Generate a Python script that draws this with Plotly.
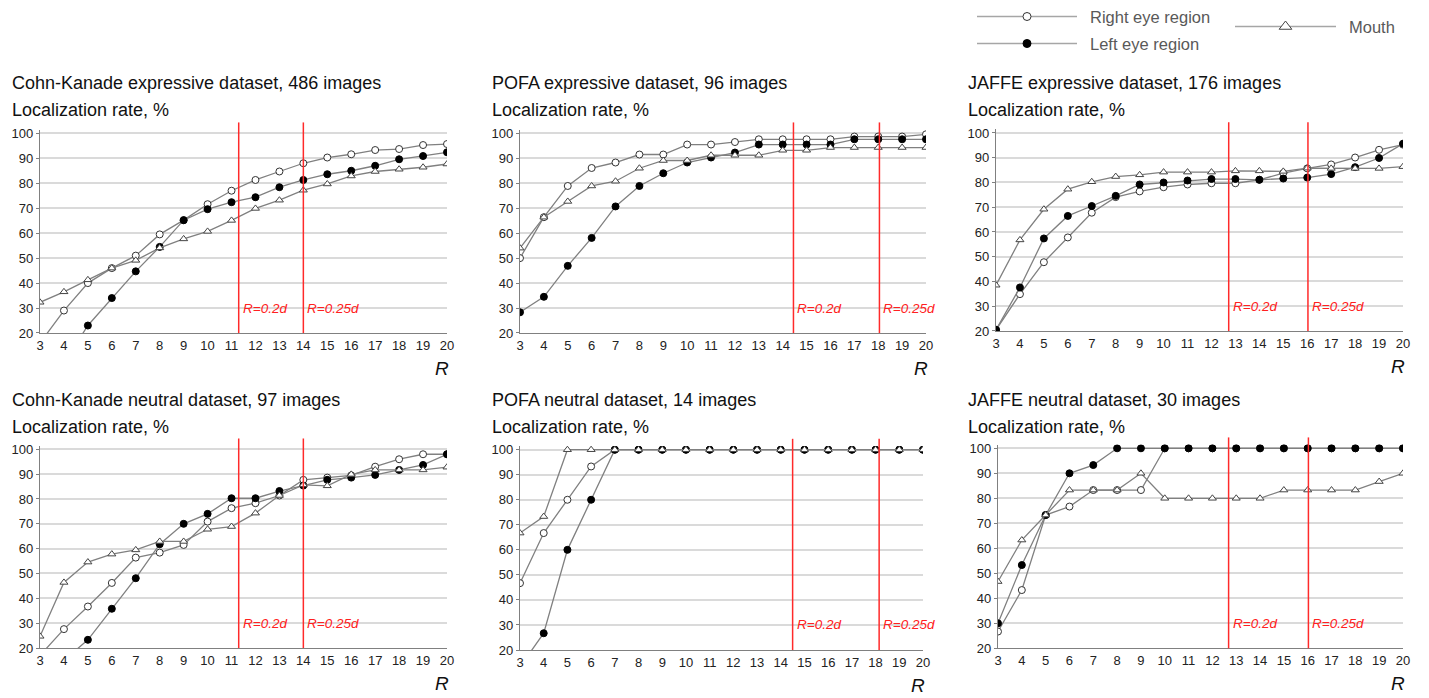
import plotly.graph_objects as go

# target canvas (reference pixels) and page offset (default body margin)
REF_W, REF_H = 1429, 698
OFF = 8
W, H = REF_W - OFF, REF_H - OFF

R_VALUES = list(range(3, 21))

# ---------------- data (localization rate, %) ----------------
titles = [
    "Cohn-Kanade expressive dataset, 486 images",
    "POFA expressive dataset, 96 images",
    "JAFFE expressive dataset, 176 images",
    "Cohn-Kanade neutral dataset, 97 images",
    "POFA neutral dataset, 14 images",
    "JAFFE neutral dataset, 30 images",
]
y_axis_label = "Localization rate, %"

ck_expr_right = [16, 29, 40, 46, 51, 59.5, 65.2, 71.6, 77, 81.3, 84.7, 88, 90.3, 91.6, 93.3, 93.7, 95.3, 95.7]
ck_expr_left = [2, 8, 23, 34, 44.7, 54.5, 65.2, 69.6, 72.4, 74.4, 78.4, 81.3, 83.6, 85, 87, 89.6, 90.9, 92.4]
ck_expr_mouth = [32.3, 36.5, 41.3, 46, 49.1, 54.1, 57.7, 60.7, 65.1, 69.9, 73.2, 77.2, 79.7, 82.9, 84.7, 85.6, 86.4, 87.7]

pofa_expr_right = [50, 66.4, 78.9, 86.1, 88.3, 91.5, 91.5, 95.5, 95.5, 96.5, 97.6, 97.6, 97.6, 97.6, 98.7, 98.7, 98.7, 99.6]
pofa_expr_left = [28.3, 34.5, 46.9, 58.1, 70.7, 78.9, 84, 88.3, 90.3, 92.3, 95.5, 95.5, 95.5, 95.5, 97.6, 97.6, 97.6, 97.6]
pofa_expr_mouth = [54, 66.4, 72.7, 78.9, 80.8, 86, 89.1, 89.1, 91.2, 91.2, 91.2, 93.2, 93.2, 94.3, 94.3, 94.3, 94.3, 94.3]

jaffe_expr_right = [20.5, 34.9, 47.8, 57.8, 67.8, 74.1, 76.4, 78.1, 79.2, 79.7, 79.7, 81.1, 83.8, 85.7, 87.3, 90.1, 93.2, 95.3]
jaffe_expr_left = [20.5, 37.6, 57.4, 66.5, 70.5, 74.6, 79.2, 80, 80.8, 81.4, 81.4, 81.1, 81.6, 82, 83.4, 86.2, 89.9, 95.7]
jaffe_expr_mouth = [38.5, 56.8, 69.2, 77.3, 80.3, 82.4, 83.1, 84.2, 84.2, 84.2, 84.7, 84.7, 84.5, 85.8, 85.7, 85.7, 85.7, 86.4]

ck_neut_right = [17, 27.6, 36.7, 46.2, 56.4, 58.4, 61.5, 70.9, 76.3, 78.3, 81.4, 87.7, 88.6, 89.5, 93, 96, 98, 98]
ck_neut_left = [5, 15, 23.3, 35.8, 48.1, 61.8, 70, 74, 80.3, 80.3, 83.2, 85.4, 87.7, 88.6, 89.7, 91.7, 93.7, 98]
ck_neut_mouth = [24.7, 46.4, 54.6, 57.8, 59.5, 62.9, 62.9, 67.8, 68.9, 74.3, 81.4, 85.7, 85.3, 89.9, 91.7, 91.7, 91.7, 92.8]

pofa_neut_right = [46.7, 66.7, 80, 93.3, 100, 100, 100, 100, 100, 100, 100, 100, 100, 100, 100, 100, 100, 100]
pofa_neut_left = [13.3, 26.7, 60, 80, 100, 100, 100, 100, 100, 100, 100, 100, 100, 100, 100, 100, 100, 100]
pofa_neut_mouth = [66.7, 73.3, 100, 100, 100, 100, 100, 100, 100, 100, 100, 100, 100, 100, 100, 100, 100, 100]

jaffe_neut_right = [26.7, 43.3, 73.3, 76.7, 83.3, 83.3, 83.3, 100, 100, 100, 100, 100, 100, 100, 100, 100, 100, 100]
jaffe_neut_left = [30, 53.3, 73.3, 90, 93.3, 100, 100, 100, 100, 100, 100, 100, 100, 100, 100, 100, 100, 100]
jaffe_neut_mouth = [46.7, 63.3, 73.3, 83.3, 83.3, 83.3, 90, 80, 80, 80, 80, 80, 83.3, 83.3, 83.3, 83.3, 86.7, 90]

# R = 0.2d and R = 0.25d positions for each panel
r_02d = [11.3, 14.45, 12.72, 11.3, 14.5, 12.68]
r_025d = [14.0, 18.05, 16.03, 14.0, 18.15, 16.03]

right_series = [ck_expr_right, pofa_expr_right, jaffe_expr_right, ck_neut_right, pofa_neut_right, jaffe_neut_right]
left_series = [ck_expr_left, pofa_expr_left, jaffe_expr_left, ck_neut_left, pofa_neut_left, jaffe_neut_left]
mouth_series = [ck_expr_mouth, pofa_expr_mouth, jaffe_expr_mouth, ck_neut_mouth, pofa_neut_mouth, jaffe_neut_mouth]

series_names = ["Right eye region", "Left eye region", "Mouth"]

# ---------------- layout geometry (reference pixels) ----------------
# (x_left, x_right, y_at_100, y_at_20)
panels = [
    (40, 447, 133.3, 333),
    (520, 926, 133.3, 333),
    (996, 1403, 133, 331),
    (40, 447, 449.3, 648),
    (520, 923, 449.7, 650),
    (998, 1403, 448.3, 648.3),
]
Y_TOP = 101.5

FONT = "Liberation Sans, Arial, sans-serif"
LINE_COLOR = "#808080"
styles = [
    dict(symbol="circle", color="white", line=dict(color="#333333", width=1)),
    dict(symbol="circle", color="black", line=dict(color="black", width=1)),
    dict(symbol="triangle-up", color="white", line=dict(color="#444444", width=1)),
]


def px(x):
    return (x - OFF) / W


def py(y):
    return 1 - (y - OFF) / H


fig = go.Figure()
layout = dict(
    width=W, height=H,
    margin=dict(l=0, r=0, t=0, b=0, autoexpand=False),
    paper_bgcolor="white", plot_bgcolor="rgba(0,0,0,0)",
    showlegend=False,
    font=dict(family=FONT, color="#222222"),
)
annotations = []
shapes = []

for i, (xl, xr, y100, y20) in enumerate(panels):
    k = i + 1
    xa = "xaxis" if k == 1 else f"xaxis{k}"
    ya = "yaxis" if k == 1 else f"yaxis{k}"
    xr_ref = "x" if k == 1 else f"x{k}"
    yr_ref = "y" if k == 1 else f"y{k}"
    ytop_px = y100 - (Y_TOP - 100) * (y20 - y100) / 80.0
    layout[xa] = dict(
        domain=[px(xl), px(xr)], anchor=yr_ref, range=[3, 20], automargin=False,
        tickmode="array", tickvals=R_VALUES, ticktext=[str(v) for v in R_VALUES],
        showgrid=False, zeroline=False, showline=True, linecolor=LINE_COLOR, linewidth=1.3,
        ticks="", tickfont=dict(family=FONT, size=13, color="#222222"),
    )
    layout[ya] = dict(
        domain=[py(y20), py(ytop_px)], anchor=xr_ref, range=[20, Y_TOP], automargin=False,
        tickmode="array", tickvals=list(range(20, 101, 10)),
        showgrid=True, gridcolor="#dadada", gridwidth=1.5, zeroline=False,
        showline=True, linecolor=LINE_COLOR, linewidth=1.3,
        ticks="outside", ticklen=3, tickcolor=LINE_COLOR,
        tickfont=dict(family=FONT, size=13, color="#222222"),
    )
    for s_idx, data in enumerate([right_series[i], left_series[i], mouth_series[i]]):
        fig.add_trace(go.Scatter(
            x=R_VALUES, y=data, mode="lines+markers", name=series_names[s_idx],
            xaxis=xr_ref, yaxis=yr_ref, cliponaxis=True,
            line=dict(color=LINE_COLOR, width=1.3),
            marker=dict(size=7, **styles[s_idx]),
        ))
    # red reference lines
    for rv, lab in [(r_02d[i], "R=0.2d"), (r_025d[i], "R=0.25d")]:
        shapes.append(dict(type="line", xref=xr_ref, yref=f"{yr_ref} domain",
                           x0=rv, x1=rv, y0=0, y1=1.035,
                           line=dict(color="#ff2a2a", width=1.5)))
        annotations.append(dict(x=rv, y=30, xref=xr_ref, yref=yr_ref, text=f"<i>{lab}</i>",
                                showarrow=False, xanchor="left", yanchor="middle", xshift=2,
                                font=dict(family=FONT, size=13.5, color="#ff2020")))
    # titles
    top_off = 83 if i < 3 else 400
    tx = [10, 490, 966][i % 3]
    annotations.append(dict(x=px(tx), y=py(top_off), xref="paper", yref="paper", text=titles[i],
                            showarrow=False, xanchor="left", yanchor="middle",
                            font=dict(family=FONT, size=18, color="#111111")))
    annotations.append(dict(x=px(tx), y=py(top_off + 27), xref="paper", yref="paper", text=y_axis_label,
                            showarrow=False, xanchor="left", yanchor="middle",
                            font=dict(family=FONT, size=18, color="#111111")))
    # R label
    annotations.append(dict(x=px(xr - 5), y=py(y20 + 35), xref="paper", yref="paper", text="<i>R</i>",
                            showarrow=False, xanchor="center", yanchor="middle",
                            font=dict(family=FONT, size=19, color="#111111")))

# ---------------- manual legend (hidden axes over the legend area only) ----------------
LEG_X0, LEG_X1, LEG_Y0, LEG_Y1 = 960, 1429, 8, 60
layout["xaxis7"] = dict(domain=[px(LEG_X0), px(LEG_X1)], range=[LEG_X0, LEG_X1],
                        visible=False, anchor="y7", automargin=False)
layout["yaxis7"] = dict(domain=[py(LEG_Y1), py(LEG_Y0)], range=[LEG_Y1, LEG_Y0],
                        visible=False, anchor="x7", automargin=False)
legend_items = [
    (977, 1077, 16.5, 1088, series_names[0], 0, 8),
    (977, 1077, 43.5, 1088, series_names[1], 1, 8),
    (1235, 1336, 26.5, 1347, series_names[2], 2, 11),
]
for x0, x1, yy, tx, name, s_idx, msize in legend_items:
    fig.add_trace(go.Scatter(x=[x0, x1], y=[yy, yy], mode="lines", xaxis="x7", yaxis="y7",
                             line=dict(color="#a6a6a6", width=1.3), hoverinfo="skip", cliponaxis=False))
    fig.add_trace(go.Scatter(x=[(x0 + x1) / 2], y=[yy], mode="markers", xaxis="x7", yaxis="y7",
                             marker=dict(size=msize, **styles[s_idx]), hoverinfo="skip", cliponaxis=False))
    annotations.append(dict(x=tx, y=yy, xref="x7", yref="y7", text=name, showarrow=False,
                            xanchor="left", yanchor="middle",
                            font=dict(family=FONT, size=16.5, color="#595959")))

layout["annotations"] = annotations
layout["shapes"] = shapes
fig.update_layout(**layout)
fig.write_html("out.html")
